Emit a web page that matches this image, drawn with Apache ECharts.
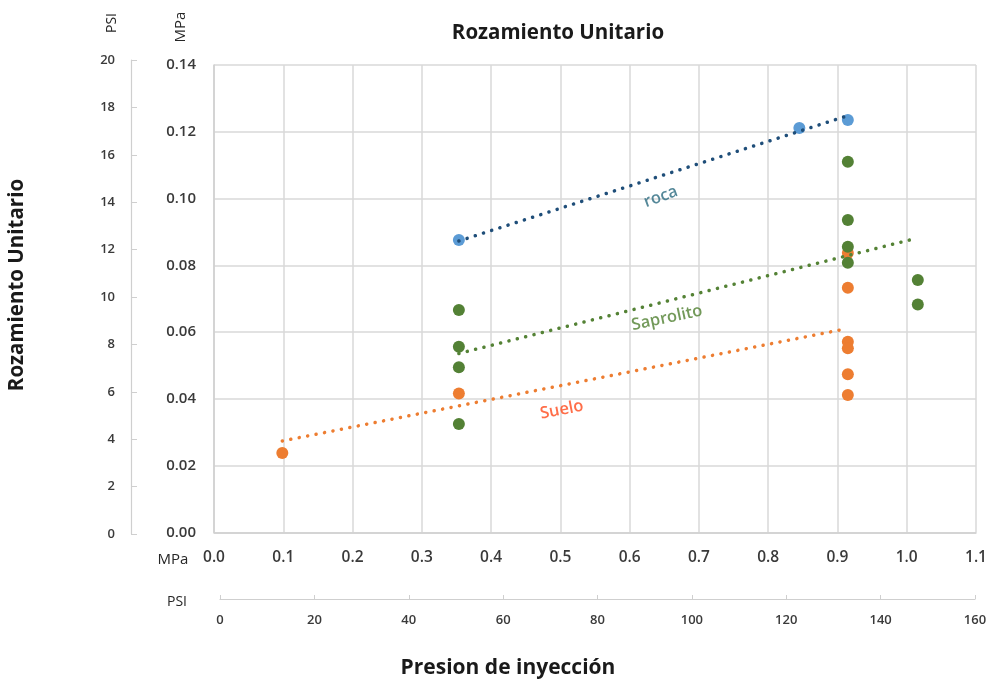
<!DOCTYPE html>
<html><head><meta charset="utf-8">
<script src="https://cdn.jsdelivr.net/npm/echarts@6/dist/echarts.min.js"></script>
<style>html,body{margin:0;padding:0;background:#fff}#c{width:992px;height:680px}</style>
</head><body><div id="c"></div>
<script>
// Data (MPa)
const rocaX = [0.3535, 0.845, 0.915];
const rocaY = [0.0876, 0.1211, 0.1235];
const saproX = [0.3535, 0.3535, 0.3535, 0.3535, 0.915, 0.915, 0.915, 0.915, 1.016, 1.016];
const saproY = [0.0666, 0.0556, 0.0495, 0.0325, 0.111, 0.0936, 0.0856, 0.0808, 0.0756, 0.0683];
const sueloX = [0.0986, 0.3535, 0.915, 0.915, 0.915, 0.915, 0.915, 0.915];
const sueloY = [0.0238, 0.0416, 0.0837, 0.0733, 0.0571, 0.0552, 0.0474, 0.0412];
// Trend line endpoints
const rocaTrendX = [0.3535, 0.913];
const rocaTrendY = [0.0873, 0.1247];
const saproTrendX = [0.3535, 1.01];
const saproTrendY = [0.0536, 0.0879];
const sueloTrendX = [0.0986, 0.91];
const sueloTrendY = [0.0274, 0.0609];
// Trend labels
const trendNames = ['roca', 'Saprolito', 'Suelo'];
const trendLabelX = [0.645, 0.654, 0.502];
const trendLabelY = [0.1005, 0.0642, 0.0367];
// Axis ranges
const mpaXRange = [0, 1.1, 0.1];
const mpaYRange = [0, 0.14, 0.02];
const psiXRange = [0, 160, 20];
const psiYRange = [0, 20, 2];

const zip = (xs, ys) => xs.map((x, i) => [x, ys[i]]);
const FONT = 'Open Sans';
const labelColors = ['#2b6a80', '#4f7f30', '#ff4a1c'];
const labelRot = [20, 12, 11];

const chart = echarts.init(document.getElementById('c'), null, {renderer: 'canvas'});
const gridLine = {show: true, lineStyle: {color: '#d9d9d9', width: 1.5}};
const dotLine = (c, w) => ({color: c, width: w, type: [0.1, 8.5], cap: 'round'});

chart.setOption({
  animation: false,
  backgroundColor: '#fff',
  title: {
    text: 'Rozamiento Unitario', left: 553, top: 18, textAlign: 'center',
    textStyle: {fontFamily: FONT, fontWeight: 'bold', fontSize: 20.5, color: '#1a1a1a'}
  },
  grid: [
    {left: 214, right: 16, top: 65, bottom: 147.5, outerBoundsMode: 'none'},
    {left: 131, width: 10, top: 60, bottom: 146, outerBoundsMode: 'none'},
    {left: 220, right: 17, top: 598, height: 1, outerBoundsMode: 'none'}
  ],
  xAxis: [
    {type: 'value', gridIndex: 0, min: mpaXRange[0], max: mpaXRange[1], interval: mpaXRange[2],
     axisLine: {show: true, onZero: false, lineStyle: {color: '#cfcfcf', width: 1.5}},
     axisTick: {show: false}, splitLine: gridLine,
     axisLabel: {margin: 17, fontFamily: FONT, fontSize: 15.5, fontWeight: 600, color: '#3a3a3a', formatter: v => v.toFixed(1)}},
    {type: 'value', gridIndex: 1, show: false, min: 0, max: 1},
    {type: 'value', gridIndex: 2, min: psiXRange[0], max: psiXRange[1], interval: psiXRange[2],
     axisLine: {show: true, onZero: false, lineStyle: {color: '#cfcfcf', width: 1.2}},
     axisTick: {show: true, inside: true, length: 4, lineStyle: {color: '#cfcfcf'}},
     splitLine: {show: false},
     axisLabel: {margin: 15, fontFamily: FONT, fontSize: 13, fontWeight: 600, color: '#3a3a3a'}}
  ],
  yAxis: [
    {type: 'value', gridIndex: 0, min: mpaYRange[0], max: mpaYRange[1], interval: mpaYRange[2],
     axisLine: {show: true, onZero: false, lineStyle: {color: '#cfcfcf', width: 1.5}},
     axisTick: {show: false}, splitLine: gridLine,
     axisLabel: {margin: 18, fontFamily: FONT, fontSize: 15, fontWeight: 600, color: '#3a3a3a', formatter: v => v.toFixed(2)}},
    {type: 'value', gridIndex: 1, min: psiYRange[0], max: psiYRange[1], interval: psiYRange[2],
     axisLine: {show: true, onZero: false, lineStyle: {color: '#cfcfcf', width: 1.2}},
     axisTick: {show: true, inside: true, length: 6, lineStyle: {color: '#cfcfcf'}},
     splitLine: {show: false},
     axisLabel: {margin: 16, fontFamily: FONT, fontSize: 13, fontWeight: 600, color: '#3a3a3a'}},
    {type: 'value', gridIndex: 2, show: false, min: 0, max: 1}
  ],
  graphic: [
    {type: 'text', x: 17, y: 285, rotation: Math.PI / 2, style: {text: 'Rozamiento Unitario', fontFamily: FONT, fontWeight: 'bold', fontSize: 20.5, fill: '#1a1a1a', align: 'center', verticalAlign: 'middle'}},
    {type: 'text', x: 508, y: 668, style: {text: 'Presion de inyección', fontFamily: FONT, fontWeight: 'bold', fontSize: 21, fill: '#1a1a1a', align: 'center', verticalAlign: 'middle'}},
    {type: 'text', x: 173, y: 560, style: {text: 'MPa', fontFamily: FONT, fontSize: 15, fill: '#262626', align: 'center', verticalAlign: 'middle'}},
    {type: 'text', x: 177, y: 602, style: {text: 'PSI', fontFamily: FONT, fontSize: 14, fill: '#262626', align: 'center', verticalAlign: 'middle'}},
    {type: 'text', x: 112, y: 23, rotation: Math.PI / 2, style: {text: 'PSI', fontFamily: FONT, fontSize: 14, fill: '#262626', align: 'center', verticalAlign: 'middle'}},
    {type: 'text', x: 181, y: 27, rotation: Math.PI / 2, style: {text: 'MPa', fontFamily: FONT, fontSize: 15, fill: '#262626', align: 'center', verticalAlign: 'middle'}}
  ],
  series: [
    {type: 'scatter', name: 'Suelo', xAxisIndex: 0, yAxisIndex: 0, symbolSize: 12, z: 2,
     itemStyle: {color: '#ed7d31', opacity: 1}, data: zip(sueloX, sueloY)},
    {type: 'scatter', name: 'Saprolito', xAxisIndex: 0, yAxisIndex: 0, symbolSize: 12, z: 3,
     itemStyle: {color: '#538135', opacity: 1}, data: zip(saproX, saproY)},
    {type: 'scatter', name: 'roca', xAxisIndex: 0, yAxisIndex: 0, symbolSize: 12, z: 4,
     itemStyle: {color: '#5b9bd5', opacity: 1}, data: zip(rocaX, rocaY)},
    {type: 'line', xAxisIndex: 0, yAxisIndex: 0, showSymbol: false, symbol: 'none', z: 5,
     lineStyle: dotLine('#ed7d31', 3.5), data: zip(sueloTrendX, sueloTrendY)},
    {type: 'line', xAxisIndex: 0, yAxisIndex: 0, showSymbol: false, symbol: 'none', z: 5,
     lineStyle: dotLine('#548235', 3.5), data: zip(saproTrendX, saproTrendY)},
    {type: 'line', xAxisIndex: 0, yAxisIndex: 0, showSymbol: false, symbol: 'none', z: 5,
     lineStyle: dotLine('#1f4e79', 3.5), data: zip(rocaTrendX, rocaTrendY)},
    {type: 'scatter', xAxisIndex: 0, yAxisIndex: 0, symbolSize: 1, z: 6, silent: true,
     itemStyle: {color: 'rgba(0,0,0,0)'},
     data: trendNames.map((n, i) => ({
       value: [trendLabelX[i], trendLabelY[i]],
       label: {show: true, position: 'inside', formatter: n, rotate: labelRot[i],
               fontFamily: FONT, fontSize: 16.5, fontWeight: 600, color: labelColors[i]}
     }))}
  ]
});
</script></body></html>
